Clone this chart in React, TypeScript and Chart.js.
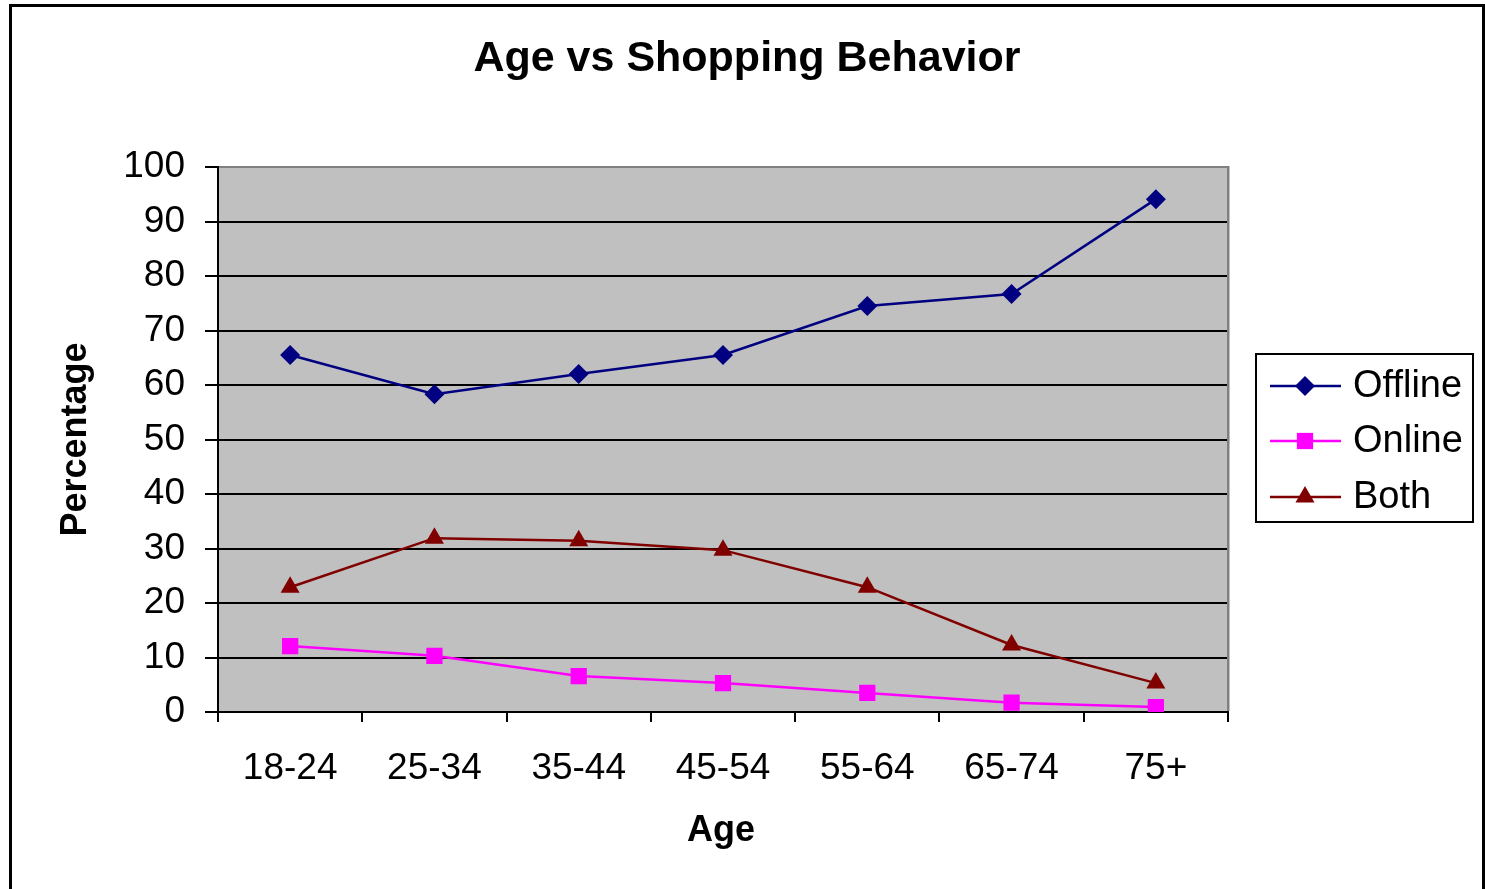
import React, { useEffect, useRef } from "react";
import { Chart, registerables } from "chart.js";

Chart.register(...registerables);

const FONT = '"Liberation Sans", Arial, Helvetica, sans-serif';

const chartTitle = "Age vs Shopping Behavior";
const xTitle = "Age";
const yTitle = "Percentage";

const ageGroups = ["18-24", "25-34", "35-44", "45-54", "55-64", "65-74", "75+"];
const offline = [65.5, 58.3, 62.0, 65.5, 74.5, 76.7, 94.1];
const online = [12.1, 10.3, 6.6, 5.3, 3.5, 1.7, 0.9];
const both = [22.9, 31.9, 31.4, 29.7, 22.9, 12.3, 5.3];

const seriesNames = ["Offline", "Online", "Both"];
const seriesColors = ["#000080", "#FF00FF", "#800000"];
const seriesMarkers = ["rectRot", "rect", "triangle"];
const markerRadius = [10, 11.5, 11];

const W = 1485;
const H = 889;
const X_AXIS_H = 100;

function drawMarker(ctx: CanvasRenderingContext2D, style: string, r: number, x: number, y: number) {
  ctx.beginPath();
  if (style === "rectRot") {
    ctx.moveTo(x, y - r);
    ctx.lineTo(x + r, y);
    ctx.lineTo(x, y + r);
    ctx.lineTo(x - r, y);
  } else if (style === "rect") {
    const s = Math.SQRT1_2 * r;
    ctx.rect(x - s, y - s, 2 * s, 2 * s);
  } else {
    const h = r * 0.866;
    ctx.moveTo(x, y - r);
    ctx.lineTo(x + h, y + r / 2);
    ctx.lineTo(x - h, y + r / 2);
  }
  ctx.closePath();
  ctx.fill();
}

// outer frame, plot backdrop, titles and the boxed legend
const decorPlugin = {
  id: "decor",
  beforeDraw(chart: any) {
    const { ctx, chartArea: a } = chart;
    ctx.save();
    ctx.fillStyle = "#ffffff";
    ctx.fillRect(0, 0, W, H);
    ctx.fillStyle = "#C0C0C0";
    ctx.fillRect(a.left, a.top, a.right - a.left, a.bottom - a.top);
    ctx.restore();
  },
  beforeDatasetsDraw(chart: any) {
    const { ctx, chartArea: a } = chart;
    ctx.save();
    ctx.fillStyle = "#808080";
    ctx.fillRect(a.right - 1, a.top - 1, 2.5, a.bottom - a.top);
    ctx.restore();
  },
  afterDraw(chart: any) {
    const { ctx, chartArea: a } = chart;
    ctx.save();
    // frame
    ctx.fillStyle = "#000";
    ctx.fillRect(9, 4, 3, H);
    ctx.fillRect(9, 4, 1476, 3);
    ctx.fillRect(1482, 4, 3, H);

    // chart title
    ctx.fillStyle = "#000";
    ctx.textAlign = "center";
    ctx.textBaseline = "middle";
    ctx.font = `bold 43px ${FONT}`;
    ctx.fillText(chartTitle, 747, 59);

    // axis titles
    ctx.font = `bold 36px ${FONT}`;
    ctx.fillText(xTitle, (a.left + a.right) / 2 - 2, 831);
    ctx.save();
    ctx.translate(76, (a.top + a.bottom) / 2);
    ctx.rotate(-Math.PI / 2);
    ctx.fillText(yTitle, 0, 0);
    ctx.restore();

    // legend box
    const lx = 1256, ly = 354, lw = 217, lh = 168;
    ctx.fillStyle = "#fff";
    ctx.fillRect(lx, ly, lw, lh);
    ctx.strokeStyle = "#000";
    ctx.lineWidth = 2;
    ctx.strokeRect(lx, ly, lw, lh);
    const rows = [386, 441, 497];
    ctx.font = `38px ${FONT}`;
    ctx.textAlign = "left";
    ctx.textBaseline = "middle";
    seriesNames.forEach((name, i) => {
      const y = rows[i];
      ctx.strokeStyle = seriesColors[i];
      ctx.lineWidth = 2.5;
      ctx.beginPath();
      ctx.moveTo(1270, y);
      ctx.lineTo(1341, y);
      ctx.stroke();
      ctx.fillStyle = seriesColors[i];
      drawMarker(ctx, seriesMarkers[i], markerRadius[i], 1305, y);
      ctx.fillStyle = "#000";
      ctx.fillText(name, 1353, y + 1);
    });
    ctx.restore();
  },
};

export default function App() {
  const canvasRef = useRef<HTMLCanvasElement | null>(null);

  useEffect(() => {
    const canvas = canvasRef.current;
    if (!canvas) return;
    const values = [offline, online, both];
    const chart = new Chart(canvas, {
      type: "line",
      data: {
        labels: ageGroups,
        datasets: values.map((data, i) => ({
          label: seriesNames[i],
          data,
          borderColor: seriesColors[i],
          backgroundColor: seriesColors[i],
          borderWidth: 2.5,
          pointStyle: seriesMarkers[i] as any,
          pointRadius: markerRadius[i],
          pointHoverRadius: markerRadius[i],
          pointBorderWidth: 0,
          tension: 0,
          fill: false,
        })),
      },
      plugins: [decorPlugin],
      options: {
        responsive: false,
        animation: false,
        devicePixelRatio: 1,
        layout: {
          padding: { left: 0, right: W - 1228, top: 167, bottom: H - 712 - X_AXIS_H },
        },
        plugins: {
          legend: { display: false },
          title: { display: false },
          tooltip: { enabled: false },
        },
        scales: {
          x: {
            type: "category",
            offset: true,
            afterFit: (scale: any) => {
              scale.height = X_AXIS_H;
            },
            grid: {
              offset: true,
              drawOnChartArea: false,
              drawTicks: true,
              tickLength: 10,
              tickColor: "#000",
              tickWidth: 2,
              lineWidth: 2,
              color: "#000",
            },
            border: { color: "#000", width: 2 },
            ticks: {
              color: "#000",
              font: { family: FONT, size: 37 },
              padding: 25,
              maxRotation: 0,
              autoSkip: false,
            },
          },
          y: {
            min: 0,
            max: 100,
            afterFit: (scale: any) => {
              scale.width = 218;
            },
            grid: {
              color: (c: any) => (c.tick && c.tick.value === 100 ? "#808080" : "#000"),
              lineWidth: 2,
              tickLength: 13,
              tickColor: "#000",
              tickWidth: 2,
            },
            border: { color: "#000", width: 2 },
            ticks: {
              stepSize: 10,
              color: "#000",
              font: { family: FONT, size: 37 },
              padding: 20,
            },
          },
        },
      },
    });
    return () => chart.destroy();
  }, []);

  return (
    <div style={{ position: "absolute", left: 0, top: 0, width: W, height: H, overflow: "hidden", background: "#fff" }}>
      <canvas ref={canvasRef} width={W} height={H} style={{ display: "block", width: W, height: H }} />
    </div>
  );
}
